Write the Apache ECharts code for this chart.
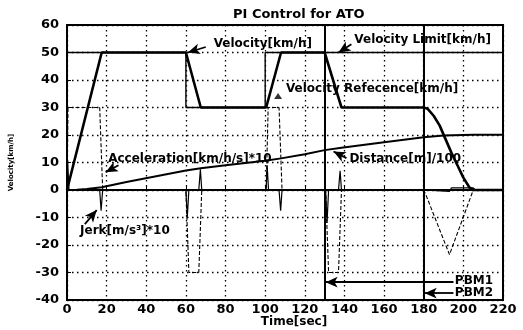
<!DOCTYPE html>
<html>
<head>
<meta charset="utf-8">
<script src="https://cdn.jsdelivr.net/npm/echarts/dist/echarts.min.js"></script>
<style>
    html, body { margin: 0; padding: 0; background: #fff; }
    #chart { width: 523px; height: 330px; }
</style>
</head>
<body>
<div id="chart"></div>
<script>
// axis ticks
var xTicks = [0, 20, 40, 60, 80, 100, 120, 140, 160, 180, 200, 220];
var yTicks = [-40, -30, -20, -10, 0, 10, 20, 30, 40, 50, 60];

// velocity [km/h]
var velT = [0, 17.5, 60, 67.5, 100.5, 108, 130, 138.5, 180, 182, 185, 188, 191, 194, 197, 200, 203, 205, 220];
var velV = [0, 50, 50, 30, 30, 50, 50, 30, 30, 29.5, 27, 23.5, 18.5, 13.5, 9, 4.5, 1, 0, 0];

// velocity limit [km/h]
var limT = [0, 60, 60, 100, 100, 220];
var limV = [50, 50, 30, 30, 50, 50];

// acceleration [km/h/s]*10
var accT = [0, 0.5, 16.5, 18, 60, 61.5, 66.5, 68, 100.5, 101.5, 107, 108.5, 130.5, 132, 137, 138.5, 180, 181.5, 193, 205, 220];
var accV = [0, 30, 30, 0, 0, -30, -30, 0, 0, 30, 30, 0, 0, -30, -30, 0, 0, -2.5, -23.5, 0, 0];

// jerk [m/s^3]*10
var jerkT = [0, 0.3, 1, 16.5, 17.2, 18, 60, 60.7, 61.5, 66.5, 67.3, 68, 100.5, 101, 101.7, 107, 107.8, 108.5, 130.5, 131.2, 132, 137, 137.8, 138.5, 180, 181, 193, 194, 205, 206, 220];
var jerkV = [0, 11, 0, 0, -7.5, 0, 0, -10, 0, 0, 7.5, 0, 0, 9, 0, 0, -7.5, 0, 0, -12, 0, 0, 7, 0, 0, -0.5, -0.5, 0.8, 0.8, 0, 0];

// distance [m]/100
var distT = [0, 5, 10, 17.5, 30, 45, 60, 67.5, 80, 100, 108, 120, 130, 138.5, 160, 180, 190, 200, 205, 220];
var distV = [0, 0.1, 0.4, 1.0, 2.9, 5.0, 7.1, 7.9, 9.0, 10.6, 11.5, 13.0, 14.5, 15.4, 17.4, 19.2, 19.8, 20.0, 20.1, 20.1];

// pattern brake points [sec]
var pbmT = [130, 180];

var FONT = 'DejaVu Sans';

initChart();

function initChart() {
    var chart = echarts.init(document.getElementById('chart'));
    chart.setOption(buildOption());
    drawNotes(chart);
}

function pairs(t, v) {
    var out = [];
    for (var i = 0; i < t.length; i++) {
        out.push([t[i], v[i]]);
    }
    return out;
}

function lineSeries(name, t, v, width, type) {
    return {
        name: name,
        type: 'line',
        data: pairs(t, v),
        symbol: 'none',
        animation: false,
        lineStyle: {color: '#000', width: width, type: type || 'solid'},
        z: 3
    };
}

function buildOption() {
    // annotation arrows, tail -> head
    var arrows = [
        [[70, 52], [61, 50]],
        [[143.5, 53], [137, 50]],
        [[26, 9], [19.5, 6.5]],
        [[141, 11.6], [134.5, 14]],
        [[9, -12.4], [15, -7.3]],
        [[195, -33.5], [130.5, -33.5]],
        [[195, -37.5], [180.5, -37.5]]
    ];
    var arrowData = arrows.map(function (a) {
        return [{coord: a[0]}, {coord: a[1]}];
    });

    var velocity = lineSeries('Velocity', velT, velV, 2.6);
    velocity.markLine = {
        silent: true,
        symbol: 'none',
        label: {show: false},
        lineStyle: {color: '#000', width: 2, type: 'solid'},
        data: pbmT.map(function (t) { return {xAxis: t}; })
    };

    var distance = lineSeries('Distance', distT, distV, 2);
    distance.markLine = {
        silent: true,
        symbol: ['none', 'arrow'],
        symbolSize: [8, 12],
        label: {show: false},
        lineStyle: {color: '#000', width: 1.8, type: 'solid'},
        data: arrowData
    };

    return {
        backgroundColor: '#fff',
        animation: false,
        title: {
            text: 'PI Control for ATO',
            left: 228,
            top: 3,
            textStyle: {fontFamily: FONT, fontSize: 13, fontWeight: 'bold', color: '#000'}
        },
        grid: {
            left: 67, right: 20, top: 25, bottom: 30,
            outerBoundsMode: 'none',
            containLabel: false,
            show: true, borderColor: '#000', borderWidth: 2
        },
        xAxis: {
            type: 'value', min: 0, max: 220, interval: 20,
            name: 'Time[sec]', nameLocation: 'middle', nameGap: 16,
            nameMoveOverlap: false,
            nameTextStyle: {fontFamily: FONT, fontSize: 12, fontWeight: 'bold', color: '#000', padding: [0, 0, 0, 18]},
            axisLine: {lineStyle: {color: '#000', width: 2}},
            axisTick: {inside: true, length: 4, lineStyle: {color: '#000'}},
            axisLabel: {fontFamily: FONT, fontSize: 13, fontWeight: 'bold', color: '#000', margin: 3,
                formatter: function (v) { return xTicks.indexOf(v) >= 0 ? String(v) : ''; }},
            splitLine: {show: true, lineStyle: {color: '#000', width: 1.3, type: [1.5, 3.5]}}
        },
        yAxis: {
            type: 'value', min: -40, max: 60, interval: 10,
            name: 'Velocity[km/h]', nameLocation: 'middle', nameGap: 52,
            nameMoveOverlap: false,
            nameTextStyle: {fontFamily: FONT, fontSize: 7, fontWeight: 'bold', color: '#000'},
            axisLine: {lineStyle: {color: '#000', width: 2}},
            axisTick: {inside: true, length: 4, lineStyle: {color: '#000'}},
            axisLabel: {fontFamily: FONT, fontSize: 13, fontWeight: 'bold', color: '#000', margin: 8,
                formatter: function (v) { return yTicks.indexOf(v) >= 0 ? String(v) : ''; }},
            splitLine: {show: true, lineStyle: {color: '#000', width: 1.3, type: [1.5, 3.5]}}
        },
        series: [
            lineSeries('Velocity Limit', limT, limV, 1.4),
            lineSeries('Acceleration', accT, accV, 1.1, [4, 2]),
            lineSeries('Jerk', jerkT, jerkV, 1.2),
            distance,
            velocity,
            {
                name: 'ref-mark',
                type: 'scatter',
                symbol: 'triangle',
                symbolSize: [8, 6],
                itemStyle: {color: '#000'},
                data: [[106.5, 34.2]],
                silent: true
            }
        ]
    };
}

// text notes placed at data coordinates
function drawNotes(chart) {
    var notes = [
        {text: 'Velocity[km/h]', at: [74, 52.7]},
        {text: 'Velocity Limit[km/h]', at: [145, 54.2]},
        {text: 'Velocity Refecence[km/h]', at: [110.5, 36.4]},
        {text: 'Acceleration[km/h/s]*10', at: [20.8, 10.9]},
        {text: 'Distance[m]/100', at: [142.5, 10.9]},
        {text: 'Jerk[m/s³]*10', at: [6.6, -15.3]},
        {text: 'PBM1', at: [195.7, -33.5]},
        {text: 'PBM2', at: [195.7, -37.6]}
    ];
    var elements = notes.map(function (n) {
        var p = chart.convertToPixel({gridIndex: 0}, n.at);
        return {
            type: 'text',
            left: p[0],
            top: p[1] - 7,
            z: 10,
            style: {
                text: n.text,
                fill: '#000',
                font: 'bold 12px "' + FONT + '"',
                textVerticalAlign: 'top'
            }
        };
    });
    chart.setOption({graphic: elements});
}
</script>
</body>
</html>
